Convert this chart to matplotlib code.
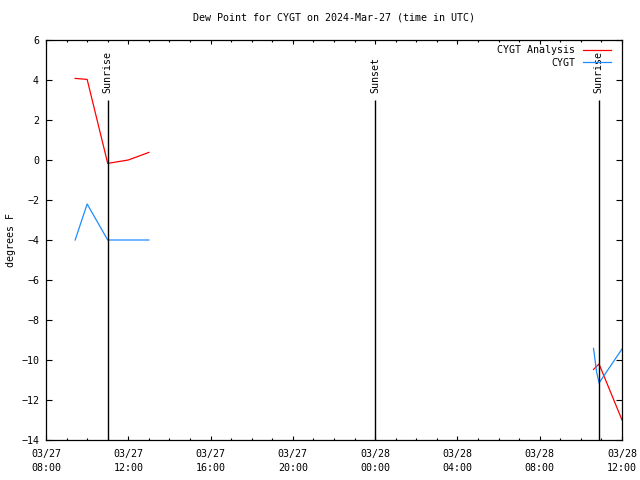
import matplotlib
matplotlib.use("Agg")
import matplotlib.pyplot as plt
import matplotlib.dates as mdates
import pandas as pd

# ---------------------------------------------------------------------------
# Data
# ---------------------------------------------------------------------------
analysis_times = ["2024-03-27 09:25", "2024-03-27 10:00", "2024-03-27 11:00",
                  "2024-03-27 12:00", "2024-03-27 13:00"]
analysis_vals = [4.08, 4.03, -0.17, 0.0, 0.38]

analysis_times2 = ["2024-03-28 10:37", "2024-03-28 10:53", "2024-03-28 12:00"]
analysis_vals2 = [-10.47, -10.2, -13.0]

obs_times = ["2024-03-27 09:25", "2024-03-27 10:00", "2024-03-27 11:00",
             "2024-03-27 12:00", "2024-03-27 13:00"]
obs_vals = [-4.0, -2.2, -4.0, -4.0, -4.0]

obs_times2 = ["2024-03-28 10:37", "2024-03-28 10:46", "2024-03-28 10:53",
              "2024-03-28 12:00"]
obs_vals2 = [-9.42, -10.6, -11.15, -9.45]

sun_times = ["2024-03-27 11:00", "2024-03-28 00:01", "2024-03-28 10:52"]
sun_labels = ["Sunrise", "Sunset", "Sunrise"]

x_start, x_end = "2024-03-27 08:00", "2024-03-28 12:00"
y_min, y_max = -14, 6

FONT = "DejaVu Sans Mono"
FS = 7.2
RED = "#ff0000"
BLUE = "#1e8cff"

plt.rcParams["font.family"] = FONT
plt.rcParams["font.size"] = FS

fig = plt.figure(figsize=(6.4, 4.8), dpi=100)
ax = fig.add_axes([46 / 640, 40 / 480, 576 / 640, 400 / 480])

t = pd.to_datetime
ax.plot(t(analysis_times), analysis_vals, color=RED, lw=0.9, label="CYGT Analysis")
ax.plot(t(analysis_times2), analysis_vals2, color=RED, lw=0.9)
ax.plot(t(obs_times), obs_vals, color=BLUE, lw=0.9, label="CYGT")
ax.plot(t(obs_times2), obs_vals2, color=BLUE, lw=0.9)

for when, lab in zip(t(sun_times), sun_labels):
    ax.vlines(when, y_min, 3, color="black", lw=1)
    ax.text(when, 3.35, lab, rotation=90, ha="center", va="bottom", fontsize=FS)

ax.set_xlim(t(x_start), t(x_end))
ax.set_ylim(y_min, y_max)
ax.set_yticks(range(y_min, y_max + 1, 2))
ax.xaxis.set_major_locator(mdates.HourLocator(byhour=range(0, 24, 4)))
ax.xaxis.set_minor_locator(mdates.HourLocator())
ax.xaxis.set_major_formatter(mdates.DateFormatter("%m/%d\n%H:%M"))
for lab in ax.get_xticklabels():
    lab.set_linespacing(1.45)

ax.tick_params(axis="y", which="major", direction="in", length=4.5, width=0.8,
               right=True, pad=5, labelsize=FS)
ax.tick_params(axis="x", which="major", direction="in", length=2.6, width=0.8,
               top=True, pad=6.5, labelsize=FS)
ax.tick_params(axis="x", which="minor", direction="in", length=1.3, width=0.8,
               top=True)
for sp in ax.spines.values():
    sp.set_linewidth(0.9)

ax.set_title("Dew Point for CYGT on 2024-Mar-27 (time in UTC)", fontsize=FS, pad=14)
ax.set_ylabel("degrees F", fontsize=FS, labelpad=4)

leg = ax.legend(loc="upper right", bbox_to_anchor=(611 / 640, 1 - 45 / 480),
                bbox_transform=fig.transFigure, markerfirst=False, frameon=False,
                fontsize=FS, handlelength=2.8, handletextpad=0.8,
                labelspacing=0.25, borderaxespad=0, borderpad=0)

fig.savefig("out.png", dpi=100)
